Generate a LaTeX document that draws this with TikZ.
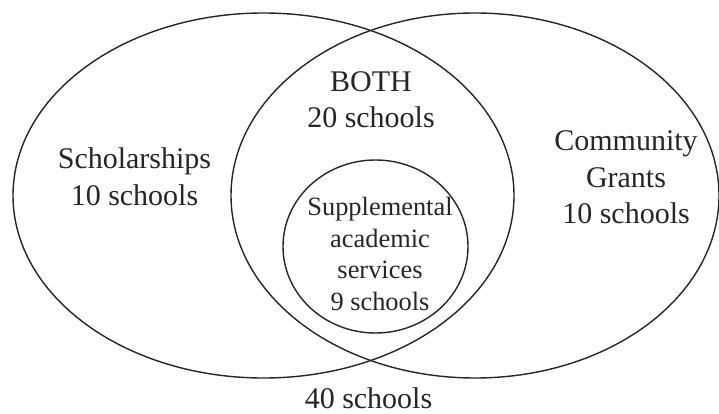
\documentclass[tikz,border=0pt]{standalone}
\usepackage{fontspec}
\setmainfont{Liberation Serif}
\begin{document}
\begin{tikzpicture}[x=1pt,y=-1pt,
  setline/.style={draw=black!85,line width=1.4pt},
  lbl/.style={inner sep=0pt,anchor=base,text=black!85,font=\fontsize{30}{36}\selectfont},
  small/.style={inner sep=0pt,anchor=base,text=black!85,font=\fontsize{26.4}{31}\selectfont}]
\useasboundingbox[fill=white] (0,0) rectangle (719,414);
\draw[setline] (263.5,195.5) ellipse [x radius=250.5pt, y radius=182.5pt];
\draw[setline] (475,195.5) ellipse [x radius=244pt, y radius=182.5pt];
\draw[setline] (375.5,246.5) ellipse [x radius=92.5pt, y radius=86.5pt];
\node[lbl] (sch1) at (134.5,168) {Scholarships};
\node[lbl] (sch2) at (134.5,205) {10 schools};
\node[lbl] (both1) at (371,92) {BOTH};
\node[lbl] (both2) at (371,128) {20 schools};
\node[lbl] (com1) at (626,150) {Community};
\node[lbl] (com2) at (626,187) {Grants};
\node[lbl] (com3) at (626,223) {10 schools};
\node[small] (sup1) at (380,215) {Supplemental};
\node[small] (sup2) at (380,247) {academic};
\node[small] (sup3) at (380,278) {services};
\node[small] (sup4) at (380,310) {9 schools};
\node[lbl] (tot) at (368.5,408) {40 schools};
\end{tikzpicture}
\end{document}
